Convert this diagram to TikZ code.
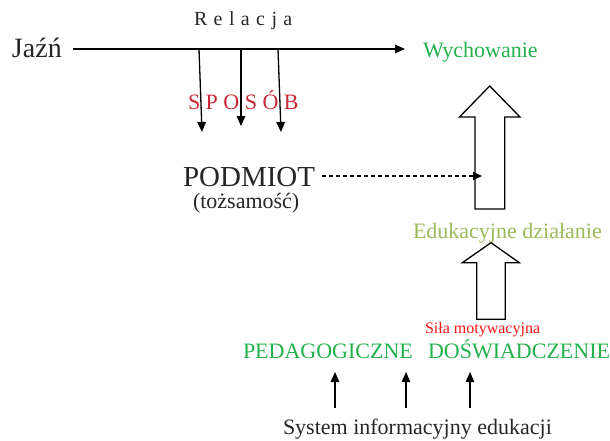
\documentclass[tikz,border=0pt]{standalone}
\usepackage{fontspec}
\setmainfont{Liberation Serif}
\usetikzlibrary{arrows.meta}
\definecolor{ink}{RGB}{38,38,38}
\definecolor{gr}{RGB}{34,177,76}
\definecolor{lgr}{RGB}{155,187,89}
\definecolor{dred}{RGB}{204,41,54}
\definecolor{bred}{RGB}{250,20,20}
\newcommand{\fs}[1]{\fontsize{#1}{#1}\selectfont}
\tikzset{
  txt/.style={inner sep=0pt, outer sep=0pt, anchor=base west},
  conn/.style={line width=1.3pt, draw=black, -{Triangle[length=10pt,width=8.5pt]}},
  dconn/.style={line width=1.1pt, draw=black, dash pattern=on 4pt off 3pt, -{Triangle[length=9pt,width=8pt]}},
  hollow/.style={line width=1.3pt, draw=black, fill=white, line join=miter}
}
\begin{document}
\begin{tikzpicture}[x=1pt,y=-1pt]
\useasboundingbox (0,0) rectangle (610,440);
% texts
\node[txt, text=ink] (rel) at (194,25) {\fs{20}\addfontfeature{LetterSpace=32}Relacja};
\node[txt, text=ink] (jazn) at (12,57) {\fs{28}Jaźń};
\node[txt, text=gr] (wych) at (423,57) {\fs{22}Wychowanie};
\node[txt, text=dred] (spos) at (188,109) {\fs{22}S P O S Ó B};
\node[txt, text=ink] (podm) at (183,186) {\fs{29}PODMIOT};
\node[txt, text=ink] (tozs) at (193,208) {\fs{22}(tożsamość)};
\node[txt, text=lgr] (eduk) at (413,238) {\fs{22}Edukacyjne działanie};
\node[txt, text=bred] (sila) at (425,333) {\fs{16}Siła motywacyjna};
\node[txt, text=gr] (peda) at (243,358) {\fs{22}PEDAGOGICZNE};
\node[txt, text=gr] (dosw) at (428,358) {\fs{22}DOŚWIADCZENIE};
\node[txt, text=ink] (syst) at (283,434) {\fs{22}System informacyjny edukacji};
% coordinates
\coordinate (m0) at (73,49);
\coordinate (m1) at (405,49);
\coordinate (a1) at (199,49);
\coordinate (a2) at (241,49);
\coordinate (a3) at (278,49);
\coordinate (b1) at (202,132);
\coordinate (b2) at (241,126);
\coordinate (b3) at (281,132);
\coordinate (d0) at (322,176);
\coordinate (d1) at (482,176);
\coordinate (u1) at (335,408);
\coordinate (u2) at (406,408);
\coordinate (u3) at (470,408);
\coordinate (v1) at (335,372);
\coordinate (v2) at (406,372);
\coordinate (v3) at (470,372);
% hollow arrows
\draw[hollow] (475,209) -- (475,117) -- (459.5,117) -- (489.7,86) -- (520,117) -- (504.7,117) -- (504.7,209) -- cycle;
\draw[hollow] (476.7,319.3) -- (476.7,262.7) -- (462.3,262.7) -- (491,242.7) -- (519.3,262.7) -- (505.3,262.7) -- (505.3,319.3) -- cycle;
% connectors
\draw[conn] (m0) -- (m1);
\draw[conn] (a1) -- (b1);
\draw[conn] (a2) -- (b2);
\draw[conn] (a3) -- (b3);
\draw[dconn] (d0) -- (d1);
\draw[conn] (u1) -- (v1);
\draw[conn] (u2) -- (v2);
\draw[conn] (u3) -- (v3);
\end{tikzpicture}
\end{document}
